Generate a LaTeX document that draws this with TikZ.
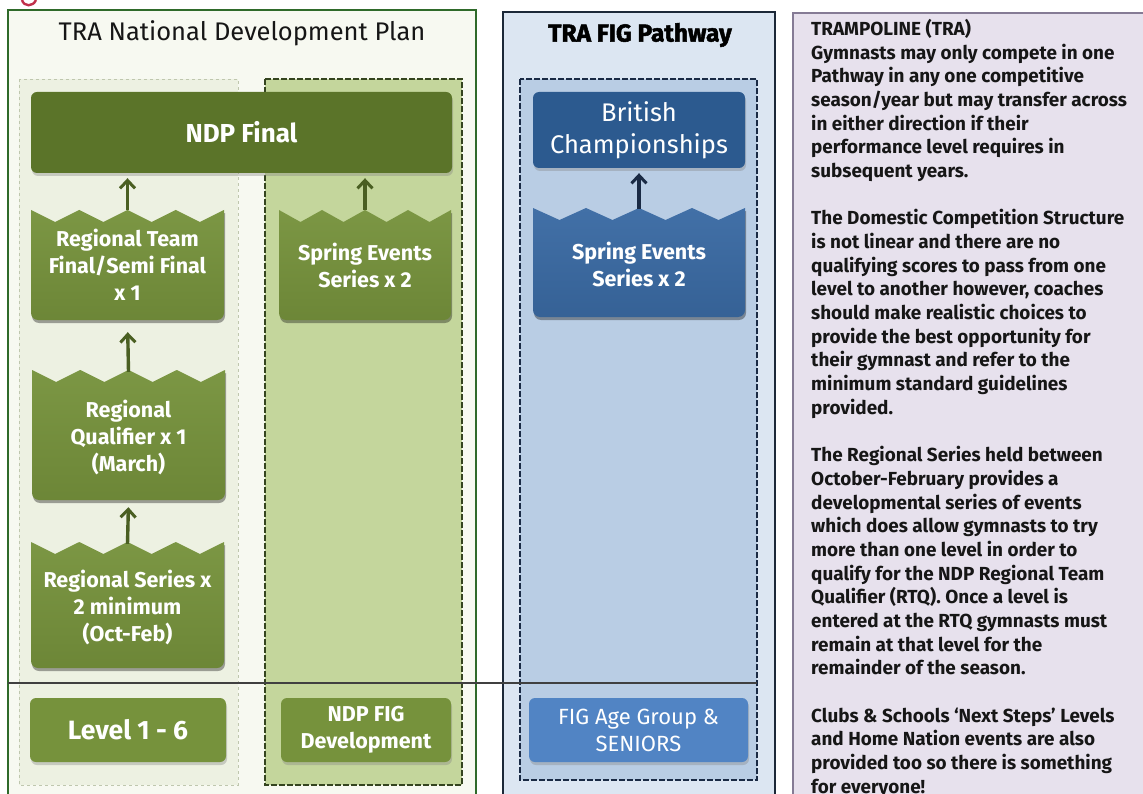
\documentclass[tikz,border=0pt]{standalone}
\usepackage{fontspec}
\setmainfont{Fira Sans}
\newfontfamily\heavyfont[BoldFeatures={FakeBold=2}]{Fira Sans}
\usetikzlibrary{arrows.meta,shadows}

% colours
\definecolor{grnOuterFill}{HTML}{F7F9F1}
\definecolor{grnOuterLine}{HTML}{2F6A2A}
\definecolor{colLeftFill}{HTML}{EDF1E2}
\definecolor{colLeftLine}{HTML}{BFC7AE}
\definecolor{colRightFill}{HTML}{C4D69C}
\definecolor{colRightLine}{HTML}{34441F}
\definecolor{ndpFill}{HTML}{5B7429}
\definecolor{boxGreen}{HTML}{76923C}
\definecolor{arrowGreen}{HTML}{4A5F22}
\definecolor{bluOuterFill}{HTML}{DCE6F2}
\definecolor{bluOuterLine}{HTML}{1C2838}
\definecolor{bluInnerFill}{HTML}{B9CDE4}
\definecolor{bluInnerLine}{HTML}{1A2A44}
\definecolor{britFill}{HTML}{2C5A8F}
\definecolor{springBlue}{HTML}{3A6AA3}
\definecolor{figBlue}{HTML}{5184C4}
\definecolor{arrowBlue}{HTML}{1A2A44}
\definecolor{panelFill}{HTML}{E7E1ED}
\definecolor{panelLine}{HTML}{857B95}
\definecolor{textDark}{HTML}{161616}
\definecolor{headRed}{HTML}{C0304A}

\newcommand\fsz[2]{\fontsize{#1}{#2}\selectfont}

% zigzag top edge followed by the rounded bottom: x1, y1 (peak line), x2, y2
\newcommand\zigoutline[4]{%
  (#1,#2) -- ++(\zt,12) -- ++(\zt,-12) -- ++(\zt,12) -- ++(\zt,-12)
  -- ++(\zt,12) -- ++(\zt,-12) -- ++(\zt,12) -- ++(\zt,-12)
  [rounded corners=7] -- (#3,#4) -- (#1,#4) [sharp corners] -- cycle}

% box with a zigzag top edge: x1, y1, x2, y2, fill colour
\newcommand\zigbox[5]{%
  \pgfmathsetmacro\zt{(#3-#1)/8}%
  \fill[black, opacity=.35, shift={(1,3)}] \zigoutline{#1}{#2}{#3}{#4};
  \shade[top color=#5!96!white, bottom color=#5!92!black] \zigoutline{#1}{#2}{#3}{#4};
}

\tikzset{
  rbox/.style={rectangle, rounded corners=6, text=white, align=center,
    inner sep=0pt, drop shadow={shadow xshift=1pt, shadow yshift=-3pt, opacity=.35}},
  zlabel/.style={rectangle, text=white, align=center, inner sep=0pt},
  gtext/.style={font=\bfseries\fsz{21.5}{27}},
  arr/.style={draw=arrowGreen, line width=3.4pt,
    -{Straight Barb[length=8pt,width=15pt,line width=3pt]}, shorten >=5pt},
  barr/.style={arr, draw=arrowBlue}
}

\begin{document}
\begin{tikzpicture}[x=1pt, y=-1pt]
\useasboundingbox (0,0) rectangle (1143,794);
\fill[white] (0,0) rectangle (1143,794);
\begin{scope}
\clip (0,0) rectangle (1143,794);

% fragment of the page heading above the frame
\draw[headRed, line width=2.4pt] (22,0) .. controls (24,7) and (33,7) .. (36,0);

% ---- TRA National Development Plan frame ----
\draw[grnOuterLine, line width=2.5pt, fill=grnOuterFill] (8,800) -- (8,10) -- (476,10) -- (476,800);
\node[font=\fsz{25.5}{28}, text=textDark] (ndptitle) at (242,33) {TRA National Development Plan};

\draw[colLeftLine, dashed, line width=0.8pt, fill=colLeftFill] (19,79) rectangle (238,785);
\draw[colRightLine, dash pattern=on 6pt off 2pt, line width=2pt, fill=colRightFill] (265,79) rectangle (462,785);

\node[rbox, fill=ndpFill, minimum width=421, minimum height=81,
      font=\bfseries\fsz{26}{28}] (ndp) at (241.5,132.5) {NDP Final};

\zigbox{31}{210}{224}{320}{boxGreen}
\node[zlabel, gtext, minimum width=193, minimum height=110] (rt) at (127.5,265)
  {Regional Team\\Final/Semi Final\\x 1};

\zigbox{279}{210}{451}{320}{boxGreen}
\node[zlabel, gtext, minimum width=172, minimum height=110] (se1) at (365,265)
  {Spring Events\\Series x 2};

\zigbox{32}{370}{225}{500}{boxGreen}
\node[zlabel, gtext, minimum width=193, minimum height=130] (rq) at (128.5,437)
  {Regional\\Qualifier x 1\\(March)};

\zigbox{31}{542}{224}{668}{boxGreen}
\node[zlabel, gtext, minimum width=193, minimum height=126] (rs) at (127.5,607)
  {Regional Series x\\2 minimum\\(Oct-Feb)};

\node[rbox, fill=boxGreen, minimum width=196, minimum height=64,
      font=\bfseries\fsz{26.5}{28}] (lvl) at (128,730) {Level 1 - 6};
\node[rbox, fill=boxGreen, minimum width=170, minimum height=64,
      font=\bfseries\fsz{21.5}{27}] (figdev) at (366,730) {NDP FIG\\Development};

\draw[arr] (rt.north) -- (rt.north |- ndp.south);
\draw[arr] (se1.north) -- (se1.north |- ndp.south);
\draw[arr, shorten >=12pt] (rq.north) -- (rt.south);
\draw[arr] (rs.north) -- (rq.south);

% ---- TRA FIG Pathway frame ----
\draw[bluOuterLine, line width=2.5pt, fill=bluOuterFill] (503,800) -- (503,12) -- (775,12) -- (775,800);
\node[font=\heavyfont\bfseries\fsz{24.5}{28}, text=black] (figtitle) at (640,35) {TRA FIG Pathway};
\draw[bluInnerLine, dash pattern=on 6pt off 2pt, line width=2pt, fill=bluInnerFill] (520,79) rectangle (757,780);

\node[rbox, fill=britFill, minimum width=212, minimum height=76,
      font=\fsz{25.5}{32}] (brit) at (639,130) {British\\Championships};

\zigbox{533}{208}{745}{317}{springBlue}
\node[zlabel, gtext, minimum width=212, minimum height=109] (se2) at (639,264)
  {Spring Events\\Series x 2};

\node[rbox, fill=figBlue, minimum width=219, minimum height=64,
      font=\fsz{22}{27}] (age) at (638.5,730) {FIG Age Group \&\\SENIORS};

\draw[barr] (se2.north) -- (se2.north |- brit.south);

% level divider across both pathways
\draw[black!75, line width=1.5pt] (8,683) -- (757,683);

% ---- notes panel ----
\draw[panelLine, line width=2pt, fill=panelFill] (1150,13) -- (793,13) -- (793,800) -- (1150,800);
\node[anchor=north west, inner sep=0pt, align=left, text=textDark,
      font=\bfseries\fsz{18.9}{23.68}] (notes) at (811,19)
{TRAMPOLINE (TRA)\\
Gymnasts may only compete in one\\
Pathway in any one competitive\\
season/year but may transfer across\\
in either direction if their\\
performance level requires in\\
subsequent years.\\
\mbox{}\\
The Domestic Competition Structure\\
is not linear and there are no\\
qualifying scores to pass from one\\
level to another however, coaches\\
should make realistic choices to\\
provide the best opportunity for\\
their gymnast and refer to the\\
minimum standard guidelines\\
provided.\\
\mbox{}\\
The Regional Series held between\\
October-February provides a\\
developmental series of events\\
which does allow gymnasts to try\\
more than one level in order to\\
qualify for the NDP Regional Team\\
Qualifier (RTQ). Once a level is\\
entered at the RTQ gymnasts must\\
remain at that level for the\\
remainder of the season.\\
\mbox{}\\
Clubs \& Schools ‘Next Steps’ Levels\\
and Home Nation events are also\\
provided too so there is something\\
for everyone!};
\end{scope}
\end{tikzpicture}
\end{document}
